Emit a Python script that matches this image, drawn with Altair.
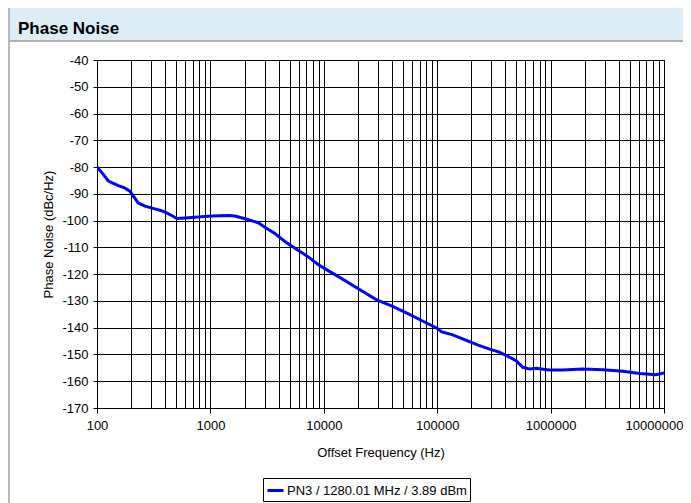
import altair as alt
import pandas as pd

# ---- data ----
freqs = [100, 110, 126, 154, 175, 195, 231, 265, 324, 370, 411, 460, 506, 600, 730,
         1025, 1435, 1645, 2020, 2650, 3040, 3710, 4700, 6180, 7540, 8900, 10550,
         13800, 19500, 29000, 40500, 57000, 75000, 98000, 110000, 135000, 190000,
         233000, 286000, 353000, 434000, 497000, 568000, 650000, 745000, 978000,
         1280000, 1925000, 2890000, 4350000, 6080000, 8460000, 9700000, 10000000]
pn = [-80.0, -82.0, -85.2, -86.9, -87.8, -89.0, -93.4, -94.6, -95.6, -96.3, -97.1, -98.2,
      -99.2, -99.0, -98.7, -98.3, -98.1, -98.3, -99.3, -100.8, -102.6, -104.8, -108.3,
      -111.5, -114.0, -116.4, -118.3, -121.2, -125.1, -129.5, -132.0, -135.0, -137.6,
      -140.0, -141.6, -142.6, -145.1, -146.6, -147.9, -149.1, -151.0, -152.3, -154.8,
      -155.4, -155.2, -155.8, -155.8, -155.4, -155.7, -156.3, -157.1, -157.6, -157.0, -156.9]
series_name = "PN3 / 1280.01 MHz / 3.89 dBm"
chart_title = "Phase Noise"
x_title = "Offset Frequency (Hz)"
y_title = "Phase Noise (dBc/Hz)"
decades = [100, 1000, 10000, 100000, 1000000]
x_ticks = [d * m for d in decades for m in range(1, 10)] + [10000000]
y_ticks = list(range(-170, -30, 10))

df = pd.DataFrame({"freq": freqs, "pn": pn, "series": series_name})
deco = pd.DataFrame({"t": [chart_title]})

FONT = "Liberation Sans"
FS = 13
W, H = 567, 348
is_decade = "abs(log(datum.value)/LN10 - round(log(datum.value)/LN10)) < 0.001"

common_axis = dict(labelFont=FONT, titleFont=FONT, labelFontSize=FS, titleFontSize=FS,
                   labelColor="black", titleColor="black", titleFontWeight="normal",
                   grid=True, gridColor="black", gridWidth=1, gridOpacity=1,
                   domainColor="black")

line = alt.Chart(df).mark_line(strokeWidth=3, clip=True).encode(
    x=alt.X("freq:Q",
            scale=alt.Scale(type="log", domain=[100, 10000000], nice=False),
            axis=alt.Axis(values=x_ticks, title=x_title,
                          labelExpr=f"{is_decade} ? format(datum.value, 'd') : ''",
                          labelOverlap=False, labelFlush=False,
                          labelOffset={"condition": {"test": "datum.value > 9999999",
                                                     "value": -10},
                                       "value": 0},
                          tickColor={"condition": {"test": is_decade, "value": "black"},
                                     "value": "rgba(0,0,0,0)"},
                          tickSize=5, labelPadding=6, titlePadding=14,
                          **common_axis)),
    y=alt.Y("pn:Q",
            scale=alt.Scale(domain=[-170, -40], nice=False, zero=False),
            axis=alt.Axis(values=y_ticks, title=y_title,
                          labelExpr="datum.value + ''",
                          tickColor="black", tickSize=4,
                          labelPadding=5, titlePadding=6, **common_axis)),
    color=alt.Color("series:N",
                    scale=alt.Scale(domain=[series_name], range=["#0000ff"]),
                    legend=alt.Legend(title=None, orient="none", legendX=166, legendY=418,
                                      symbolType="stroke", symbolStrokeWidth=3,
                                      symbolSize=256, strokeColor="black", padding=3,
                                      labelFontSize=FS, labelFont=FONT, labelColor="black",
                                      labelOffset=2, labelLimit=0)),
)

bar = alt.Chart(deco).mark_rect(fill="#ddedf8").encode(
    x=alt.value(-89), x2=alt.value(586), y=alt.value(-52), y2=alt.value(-19))
sep = alt.Chart(deco).mark_rule(color="#b0b0b0", strokeWidth=2).encode(
    x=alt.value(-89), x2=alt.value(586), y=alt.value(-19))
left_border = alt.Chart(deco).mark_rule(color="#b8b8b8", strokeWidth=2).encode(
    x=alt.value(-88), y=alt.value(-52), y2=alt.value(443))
title_text = alt.Chart(deco).mark_text(
    align="left", baseline="alphabetic", fontSize=17, fontWeight="bold",
    font=FONT, color="black").encode(x=alt.value(-79), y=alt.value(-26), text="t:N")

chart = alt.layer(bar, sep, left_border, title_text, line).properties(
    width=W, height=H,
    autosize=alt.AutoSizeParams(type="none"),
    padding={"left": 89, "top": 52, "right": 19, "bottom": 95},
).configure_view(stroke="black", strokeWidth=1)

chart.save("out.html", embed_options={"renderer": "svg", "actions": False})
